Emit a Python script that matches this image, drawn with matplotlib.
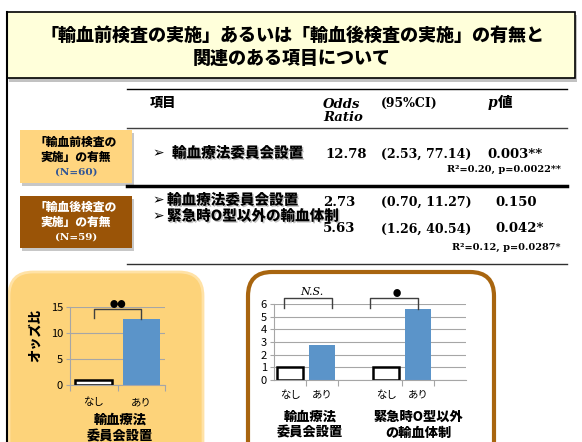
import matplotlib.pyplot as plt
from matplotlib.patches import FancyBboxPatch, Rectangle
import matplotlib.patheffects as pe

plt.rcParams['font.family'] = ['Noto Sans CJK JP', 'DejaVu Sans']

# ---- data ----
title_lines = ['「輸血前検査の実施」あるいは「輸血後検査の実施」の有無と',
               '関連のある項目について']
header = ['項目', 'Odds\nRatio', '(95%CI)', 'p', '値']

pre_label = ['「輸血前検査の', '実施」の有無', '(N=60)']
pre_items = ['輸血療法委員会設置']
pre_or = [12.78]
pre_ci = ['(2.53, 77.14)']
pre_p = ['0.003**']
pre_fit = 'R²=0.20, p=0.0022**'

post_label = ['「輸血後検査の', '実施」の有無', '(N=59)']
post_items = ['輸血療法委員会設置', '緊急時O型以外の輸血体制']
post_or = [2.73, 5.63]
post_ci = ['(0.70, 11.27)', '(1.26, 40.54)']
post_p = ['0.150', '0.042*']
post_fit = 'R²=0.12, p=0.0287*'

bar_labels = ['なし', 'あり']
chart1_or = [1, 12.78]
chart2_committee = [1, 2.73]
chart2_emergency = [1, 5.63]
chart2_groups = ['輸血療法\n委員会設置', '緊急時O型以外\nの輸血体制']

blue = '#5B94C9'
grid_c = '#A6A6A6'
serif = 'DejaVu Serif'

fig = plt.figure(figsize=(5.82, 4.42), dpi=100)
bg = fig.add_axes([0, 0, 1, 1])
bg.set_xlim(0, 582)
bg.set_ylim(442, 0)
bg.axis('off')

# slide frame + title box
bg.plot([7, 7], [12, 442], color='black', lw=1.5)
bg.add_patch(Rectangle((9, 15), 568, 67, facecolor='#9a9a9a', edgecolor='none', alpha=0.6))
bg.add_patch(Rectangle((7, 12), 568, 66, facecolor='#FFFFDA', edgecolor='black', lw=1.2))
bg.text(292, 35, title_lines[0], ha='center', va='center', fontsize=13, fontweight='heavy')
bg.text(292, 58, title_lines[1], ha='center', va='center', fontsize=13, fontweight='heavy')

# table lines
bg.plot([127, 567], [89, 89], color='black', lw=1)
bg.plot([127, 567], [128, 128], color='#404040', lw=1)
bg.plot([127, 567], [186, 186], color='black', lw=2.5)
bg.plot([127, 567], [264, 264], color='#303030', lw=1)

# header
bg.text(150, 103, header[0], ha='left', va='center', fontsize=9.5, fontweight='heavy')
bg.text(323, 111, header[1], ha='left', va='center', fontsize=9.5, fontweight='bold',
        style='italic', family=serif, linespacing=1.05)
bg.text(381, 103, header[2], ha='left', va='center', fontsize=9, fontweight='bold', family=serif)
bg.text(488, 103, header[3], ha='left', va='center', fontsize=10, fontweight='bold',
        style='italic', family=serif)
bg.text(498, 102, header[4], ha='left', va='center', fontsize=10.5, fontweight='heavy')

shadow = [pe.SimplePatchShadow(offset=(1, -1), shadow_rgbFace='#888888', alpha=0.5), pe.Normal()]

# group label boxes
bg.add_patch(Rectangle((22, 133), 112, 53, facecolor='#b0b0b0', edgecolor='none', alpha=0.7))
bg.add_patch(Rectangle((20, 130), 112, 53, facecolor='#FFD57F', edgecolor='none'))
bg.add_patch(Rectangle((22, 199), 112, 52, facecolor='#b0b0b0', edgecolor='none', alpha=0.7))
bg.add_patch(Rectangle((20, 196), 112, 52, facecolor='#9A5407', edgecolor='none'))
for i, y in enumerate([142, 157]):
    bg.text(76, y, pre_label[i], ha='center', va='center', fontsize=8.5, fontweight='heavy')
    bg.text(76, y + 65, post_label[i], ha='center', va='center', fontsize=8.5,
            fontweight='heavy', color='white')
bg.text(76, 172, pre_label[2], ha='center', va='center', fontsize=7.5, fontweight='bold',
        family=serif, color='#2F5597')
bg.text(76, 237, post_label[2], ha='center', va='center', fontsize=7.5, fontweight='bold',
        family=serif, color='white')

# row 1 (pre)
bg.text(152, 153, '➢', ha='left', va='center', fontsize=10, family='DejaVu Sans')
bg.text(172, 153, pre_items[0], ha='left', va='center', fontsize=10.5, fontweight='heavy',
        path_effects=shadow)
bg.text(325, 154, f'{pre_or[0]:.2f}', ha='left', va='center', fontsize=9.5,
        fontweight='bold', family=serif)
bg.text(381, 154, pre_ci[0], ha='left', va='center', fontsize=9, fontweight='bold', family=serif)
bg.text(487, 154, pre_p[0], ha='left', va='center', fontsize=9.5, fontweight='bold', family=serif)
bg.text(561, 169, pre_fit, ha='right', va='center', fontsize=7, fontweight='bold', family=serif)

# rows 2-3 (post)
for i, y in enumerate([200, 216]):
    bg.text(152, y, '➢', ha='left', va='center', fontsize=10, family='DejaVu Sans')
    bg.text(167, y, post_items[i], ha='left', va='center', fontsize=10.5, fontweight='heavy',
            path_effects=shadow)
for i, y in enumerate([202, 229]):
    bg.text(323, y, f'{post_or[i]:.2f}', ha='left', va='center', fontsize=9.5,
            fontweight='bold', family=serif)
    bg.text(381, y, post_ci[i], ha='left', va='center', fontsize=9, fontweight='bold', family=serif)
    bg.text(495, y, post_p[i], ha='left', va='center', fontsize=9.5, fontweight='bold', family=serif)
bg.text(561, 247, post_fit, ha='right', va='center', fontsize=7, fontweight='bold', family=serif)

# rounded panels
bg.add_patch(FancyBboxPatch((9, 272), 194, 200, boxstyle='round,pad=0,rounding_size=24',
                            facecolor='#FDD37A', edgecolor='#FFE2A6', lw=2))
bg.add_patch(FancyBboxPatch((248, 272), 246, 200, boxstyle='round,pad=0,rounding_size=24',
                            facecolor='white', edgecolor='#A8650F', lw=3))

bg.text(35, 335, 'オッズ比', rotation=90, ha='center', va='center', fontsize=9.5, fontweight='heavy')
bg.text(120, 420, '輸血療法', ha='center', va='center', fontsize=9.5, fontweight='heavy')
bg.text(120, 436, '委員会設置', ha='center', va='center', fontsize=9.5, fontweight='heavy')
for xc, lab in zip([310, 418], chart2_groups):
    l1, l2 = lab.split('\n')
    bg.text(xc, 417, l1, ha='center', va='center', fontsize=9.5, fontweight='heavy')
    bg.text(xc, 433, l2, ha='center', va='center', fontsize=9.5, fontweight='heavy')


def style_axes(ax, ymax, yticks, edges, centers, pad):
    ax.set_facecolor('none')
    ax.set_ylim(0, ymax)
    ax.set_yticks(yticks)
    ax.grid(axis='y', color=grid_c, lw=0.8)
    ax.set_axisbelow(True)
    for s in ['top', 'right']:
        ax.spines[s].set_visible(False)
    for s in ['left', 'bottom']:
        ax.spines[s].set_color(grid_c)
    ax.set_xticks(edges)
    ax.set_xticklabels([])
    ax.set_xticks(centers, minor=True)
    ax.set_xticklabels(bar_labels * (len(centers) // 2), minor=True, fontsize=7.5)
    ax.tick_params(axis='x', which='major', length=4, color=grid_c)
    ax.tick_params(axis='x', which='minor', length=0, pad=pad)
    ax.tick_params(axis='y', length=3, color=grid_c, labelsize=8, pad=2)


# chart 1
ax1 = fig.add_axes([70 / 582, 57 / 442, 95 / 582, 78 / 442])
ax1.bar([0, 1], chart1_or, width=0.78, color=['white', blue],
        edgecolor=['black', blue], linewidth=[1.8, 0])
ax1.set_xlim(-0.5, 1.5)
style_axes(ax1, 15, [0, 5, 10, 15], [-0.5, 0.5, 1.5], [0, 1], 9)
ax1.plot([0, 0, 1, 1], [12.9, 14.6, 14.6, 12.78], color='#404040', lw=1, clip_on=False)
ax1.text(0.5, 15.5, '●●', ha='center', va='center', fontsize=6)

# chart 2
ax2 = fig.add_axes([274 / 582, 62 / 442, 192 / 582, 76 / 442])
ax2.bar([0, 1, 3, 4], chart2_committee + chart2_emergency, width=0.8,
        color=['white', blue, 'white', blue],
        edgecolor=['black', blue, 'black', blue], linewidth=[1.8, 0, 1.8, 0])
ax2.set_xlim(-0.5, 5.5)
style_axes(ax2, 6, range(7), [0.5, 1.5, 3.5, 4.5], [0, 1, 3, 4], 7)
ax2.plot([-0.2, -0.2, 1.3, 1.3], [5.68, 6.47, 6.47, 5.68], color='#404040', lw=1, clip_on=False)
ax2.text(0.69, 6.95, 'N.S.', ha='center', va='center', fontsize=8, style='italic', family=serif)
ax2.plot([2.5, 2.5, 4.0, 4.0], [5.68, 6.47, 6.47, 5.63], color='#404040', lw=1, clip_on=False)
ax2.text(3.34, 6.8, '●', ha='center', va='center', fontsize=6)

fig.savefig('out.png', dpi=100)
